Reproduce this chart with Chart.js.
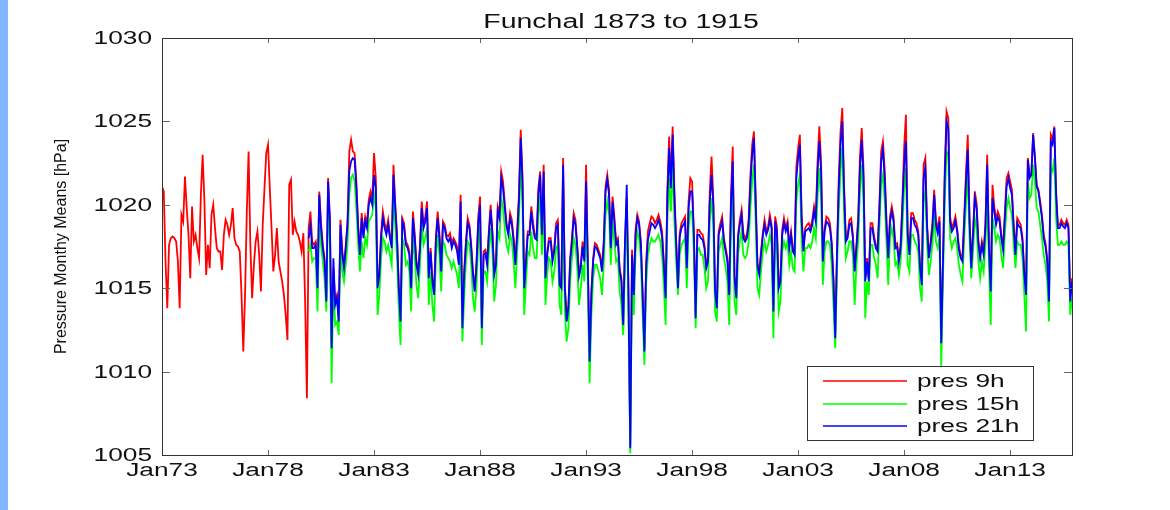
<!DOCTYPE html>
<html>
<head>
<meta charset="utf-8">
<title>Funchal 1873 to 1915</title>
<script src="https://cdn.jsdelivr.net/npm/chart.js@4.4.1/dist/chart.umd.min.js"></script>
<style>
  html,body{margin:0;padding:0;background:#fff;}
  #wrap{position:relative;width:1170px;height:510px;overflow:hidden;}
  #strip{position:absolute;left:0;top:0;width:8px;height:510px;background:#80b8ff;}
  canvas{position:absolute;left:0;top:0;}
</style>
</head>
<body>
<div id="wrap">
  <canvas id="chart" width="1170" height="510"></canvas>
  <div id="strip"></div>
</div>
<script>
/* ------- DATA (monthly means, month 0 = Jan 1873) ------- */
const titleText = "Funchal 1873 to 1915";
const yLabel = "Pressure Monthy Means [hPa]";
const seriesNames = ["pres 9h", "pres 15h", "pres 21h"];
const yTicks = [1005, 1010, 1015, 1020, 1025, 1030];
const xTickMonths = [0, 60, 120, 180, 240, 300, 360, 420, 480];
const xTickLabels = ["Jan73", "Jan78", "Jan83", "Jan88", "Jan93", "Jan98", "Jan03", "Jan08", "Jan13"];
const lastMonth = 515;

// 9h starts Jan 1873
const pres9h = [
  1021.1,1020.8,1016.6,1013.8,1017.6,1018.0,1018.1,1018.0,1017.8,1016.6,1013.8,1019.4,
  1019.0,1021.7,1019.8,1018.2,1015.6,1019.9,1017.8,1018.2,1017.4,1016.8,1020.6,1023.0,
  1020.2,1015.8,1017.6,1016.2,1019.4,1020.0,1018.6,1017.4,1017.2,1017.2,1016.1,1018.2,
  1019.1,1018.8,1018.2,1018.8,1019.8,1018.0,1017.6,1017.5,1017.2,1014.6,1011.2,1014.6,
  1019.6,1023.2,1017.6,1014.4,1016.4,1017.8,1018.4,1017.0,1014.8,1018.8,1021.0,1023.1,
  1023.6,1021.0,1018.6,1016.0,1017.0,1018.6,1016.6,1016.0,1015.4,1014.6,1013.4,1011.9,
  1021.2,1021.5,1018.2,1019.0,1018.4,1018.2,1017.8,1017.2,1018.3,1014.2,1008.4,1018.6,
  1019.6,1017.8,1017.6,1017.8,1015.2,1020.8,1018.9,1017.6,1016.8,1014.3,1021.6,1019.2,
  1011.6,1016.2,1014.2,1014.6,1013.2,1019.1,1017.3,1016.4,1017.6,1019.0,1023.2,1023.9,
  1023.2,1023.1,1021.4,1018.8,1017.2,1019.5,1018.3,1019.3,1018.9,1020.3,1020.8,1020.4,
  1023.1,1021.6,1015.2,1016.0,1018.3,1019.6,1018.9,1018.5,1019.1,1018.2,1017.6,1022.4,
  1020.1,1018.2,1015.2,1013.3,1019.2,1018.9,1017.8,1017.6,1017.2,1015.2,1019.6,1018.3,
  1016.6,1016.0,1017.6,1020.2,1018.8,1019.3,1020.2,1015.8,1017.4,1015.6,1014.8,1018.1,
  1019.6,1018.3,1016.2,1019.0,1018.8,1018.2,1018.1,1018.3,1017.7,1018.0,1017.8,1017.5,
  1016.6,1020.6,1012.8,1016.0,1017.8,1019.2,1018.8,1017.6,1016.0,1015.0,1016.6,1019.3,
  1020.5,1012.8,1017.2,1017.3,1016.6,1018.5,1020.0,1018.4,1016.0,1016.6,1019.9,1019.5,
  1022.0,1021.4,1020.1,1018.9,1018.4,1019.5,1019.1,1018.0,1016.6,1018.5,1020.6,1024.5,
  1021.8,1015.2,1016.8,1018.4,1018.4,1019.9,1018.9,1018.2,1018.1,1021.0,1022.0,1018.4,
  1022.4,1015.8,1017.2,1018.0,1018.0,1016.8,1017.4,1018.9,1019.1,1015.4,1015.2,1022.8,
  1015.2,1013.2,1014.0,1016.8,1018.0,1019.5,1019.1,1017.6,1015.9,1016.4,1017.8,1016.8,
  1022.4,1016.6,1010.6,1014.8,1016.8,1017.7,1017.6,1017.3,1017.0,1016.2,1017.8,1021.1,
  1021.8,1020.9,1017.6,1020.5,1019.3,1017.8,1018.0,1016.2,1015.6,1012.6,1017.8,1020.4,
  1014.8,1005.6,1017.3,1014.8,1018.5,1019.4,1019.0,1017.8,1014.8,1011.4,1016.6,1018.4,
  1018.9,1019.3,1019.2,1018.9,1019.1,1019.4,1019.0,1018.4,1016.6,1014.6,1020.9,1024.1,
  1021.4,1024.7,1020.8,1017.8,1015.2,1018.3,1018.9,1019.1,1019.3,1016.4,1020.2,1021.6,
  1021.4,1018.4,1013.4,1018.5,1018.5,1018.3,1018.2,1017.6,1016.4,1016.8,1020.8,1022.9,
  1020.4,1015.0,1014.0,1018.4,1018.9,1019.3,1018.0,1017.4,1016.8,1014.8,1020.6,1023.5,
  1015.8,1014.6,1018.2,1019.1,1019.7,1018.3,1018.0,1018.2,1019.1,1021.8,1023.6,1024.4,
  1020.4,1016.5,1016.0,1017.2,1018.3,1019.1,1018.4,1018.7,1019.4,1018.8,1013.8,1019.3,
  1018.7,1015.2,1015.6,1018.5,1019.2,1018.6,1019.0,1017.6,1018.4,1017.4,1017.2,1022.3,
  1023.4,1024.2,1019.4,1017.4,1018.6,1018.8,1018.9,1018.6,1019.1,1019.9,1019.3,1022.6,
  1024.7,1022.6,1016.8,1018.6,1019.3,1019.2,1018.9,1017.8,1015.6,1012.2,1017.2,1021.6,
  1024.4,1025.8,1021.2,1018.0,1018.2,1019.1,1019.2,1018.2,1016.2,1017.6,1019.3,1022.9,
  1024.6,1022.2,1015.6,1016.8,1015.6,1018.9,1018.9,1018.1,1017.6,1017.4,1020.0,1023.2,
  1023.8,1022.1,1019.1,1017.0,1019.3,1019.9,1019.3,1017.6,1017.7,1016.8,1017.6,1020.2,
  1023.4,1025.4,1018.4,1017.2,1019.5,1019.5,1019.1,1018.9,1018.4,1016.4,1015.4,1022.4,
  1022.8,1018.8,1017.0,1017.8,1018.9,1020.9,1019.1,1018.5,1019.3,1011.9,1016.8,1022.2,
  1025.6,1025.2,1019.3,1018.6,1018.9,1019.3,1018.6,1017.5,1017.0,1016.8,1019.3,1021.9,
  1024.2,1019.3,1016.4,1018.4,1020.8,1020.1,1017.9,1017.0,1017.8,1017.2,1018.9,1023.0,
  1017.6,1015.0,1021.2,1019.9,1019.1,1019.6,1019.3,1018.2,1017.5,1019.5,1021.6,1021.9,
  1021.4,1020.9,1018.8,1017.2,1019.2,1019.0,1018.8,1018.0,1016.0,1014.8,1022.8,1021.8,
  1021.8,1024.3,1022.9,1021.2,1020.9,1020.2,1019.4,1018.2,1017.7,1016.8,1014.4,1024.2,
  1023.9,1024.7,1020.8,1018.8,1018.8,1019.1,1018.9,1018.8,1019.1,1018.8,1014.4,1015.6
];

// 15h and 21h start Dec 1879 (month 83)
const lateStart = 83;
const pres15h = [
  1017.2,
  1017.6,1016.6,1016.8,1016.8,1013.6,1019.4,1017.6,1016.6,1015.6,1013.6,1020.6,1017.8,
  1009.3,1015.6,1012.8,1013.0,1012.2,1017.8,1016.0,1015.4,1016.4,1017.6,1020.6,1021.6,
  1021.8,1021.4,1019.8,1017.6,1016.0,1017.8,1016.8,1018.0,1017.6,1019.0,1019.2,1019.4,
  1020.6,1019.8,1013.4,1014.6,1016.8,1018.0,1017.8,1017.2,1017.6,1017.0,1016.4,1020.4,
  1018.8,1016.8,1013.8,1011.6,1018.0,1017.6,1016.4,1016.6,1016.0,1013.6,1018.2,1017.0,
  1015.2,1014.4,1016.4,1018.8,1017.6,1018.0,1018.6,1014.0,1016.0,1014.0,1013.0,1016.8,
  1018.2,1017.0,1014.8,1017.8,1017.6,1017.0,1016.8,1016.6,1016.2,1016.6,1016.2,1015.8,
  1015.0,1019.0,1011.8,1014.4,1016.6,1017.8,1017.6,1016.4,1014.4,1013.6,1015.2,1017.8,
  1018.8,1011.6,1016.0,1016.0,1015.4,1017.2,1018.6,1017.2,1014.2,1015.2,1018.4,1018.0,
  1020.4,1019.8,1018.6,1017.6,1017.2,1018.2,1017.8,1016.6,1015.0,1017.2,1019.0,1022.6,
  1020.0,1013.4,1015.4,1017.2,1017.0,1018.4,1017.4,1016.8,1016.8,1019.4,1020.6,1017.0,
  1020.8,1014.0,1015.8,1016.8,1016.6,1015.4,1016.0,1017.4,1017.6,1014.0,1013.4,1021.0,
  1013.6,1011.8,1012.6,1015.4,1016.8,1018.0,1017.6,1016.2,1014.0,1015.0,1016.4,1015.4,
  1020.0,1015.0,1009.3,1013.4,1015.6,1016.4,1016.4,1016.0,1015.6,1014.6,1016.4,1019.4,
  1020.2,1019.4,1016.4,1019.0,1017.8,1016.6,1016.8,1014.8,1014.0,1012.2,1016.4,1020.0,
  1013.2,1005.1,1016.0,1013.4,1017.2,1018.4,1018.0,1016.8,1013.4,1010.4,1015.2,1017.0,
  1017.6,1018.0,1017.8,1017.8,1018.0,1018.2,1017.8,1017.0,1015.2,1012.8,1019.0,1021.6,
  1019.6,1022.4,1019.0,1016.6,1014.6,1017.0,1017.6,1017.8,1018.0,1015.0,1018.6,1019.6,
  1019.6,1017.2,1012.6,1017.2,1017.4,1017.0,1017.0,1016.2,1015.0,1015.4,1019.0,1020.4,
  1018.8,1013.6,1013.0,1017.2,1017.6,1018.0,1016.8,1016.2,1015.4,1012.8,1018.8,1021.2,
  1014.2,1013.4,1017.0,1017.8,1018.4,1017.0,1016.8,1017.0,1017.8,1019.8,1021.4,1022.4,
  1018.8,1015.0,1014.6,1016.0,1017.2,1017.8,1017.2,1017.6,1018.2,1017.6,1012.0,1018.0,
  1017.4,1013.6,1014.2,1017.2,1017.8,1017.4,1017.8,1016.4,1017.2,1016.2,1016.0,1020.2,
  1021.2,1021.8,1017.8,1016.0,1017.4,1017.4,1017.6,1017.4,1017.8,1018.6,1018.0,1020.4,
  1022.2,1020.4,1015.2,1017.2,1017.8,1017.8,1017.6,1016.4,1014.0,1011.4,1016.0,1019.6,
  1022.0,1023.4,1019.4,1016.8,1017.2,1017.8,1017.8,1017.0,1014.0,1016.4,1017.8,1020.8,
  1022.4,1020.2,1013.2,1015.4,1014.6,1017.6,1017.6,1016.8,1016.4,1015.6,1018.6,1021.2,
  1021.8,1020.2,1017.8,1015.2,1018.0,1018.6,1018.0,1016.4,1016.6,1015.8,1016.6,1018.6,
  1021.0,1022.2,1016.4,1016.0,1018.2,1018.2,1017.8,1017.6,1017.2,1015.0,1014.2,1020.2,
  1020.8,1017.6,1015.8,1016.6,1017.6,1019.4,1017.8,1017.4,1018.0,1010.3,1015.6,1020.2,
  1023.2,1023.0,1018.0,1017.4,1017.8,1018.0,1017.4,1016.4,1015.8,1015.4,1018.0,1020.0,
  1021.8,1018.0,1015.6,1017.2,1019.2,1018.6,1016.6,1015.6,1016.6,1016.0,1017.6,1020.8,
  1016.4,1012.8,1019.2,1018.6,1017.8,1018.2,1018.0,1017.0,1016.2,1018.2,1019.8,1020.4,
  1019.8,1019.4,1017.6,1016.2,1017.8,1017.6,1017.6,1016.8,1014.6,1012.4,1021.4,1020.4,
  1020.6,1022.4,1021.4,1019.8,1019.6,1018.8,1018.0,1017.0,1016.4,1015.4,1013.0,1022.2,
  1022.0,1022.8,1019.2,1017.6,1017.6,1017.8,1017.6,1017.6,1017.8,1017.6,1013.4,1014.4
];

const pres21h = [
  1018.0,
  1018.8,1017.4,1017.4,1017.6,1015.0,1020.6,1018.6,1017.4,1016.6,1014.2,1021.4,1019.0,
  1011.4,1016.8,1014.0,1014.4,1013.0,1018.8,1017.0,1016.2,1017.4,1018.8,1022.0,1022.6,
  1022.8,1022.7,1021.0,1018.6,1017.0,1019.2,1018.0,1019.0,1018.6,1020.0,1020.4,1020.0,
  1021.8,1021.0,1015.0,1015.8,1018.0,1019.2,1018.6,1018.2,1018.8,1018.0,1017.4,1021.8,
  1019.8,1018.0,1015.0,1013.0,1019.0,1018.6,1017.6,1017.4,1017.0,1015.0,1019.2,1018.0,
  1016.4,1015.8,1017.4,1019.8,1018.6,1019.0,1019.8,1015.6,1017.2,1015.4,1014.6,1017.8,
  1019.2,1018.0,1016.0,1018.8,1018.6,1018.0,1017.8,1018.0,1017.4,1017.8,1017.6,1017.2,
  1016.4,1020.2,1012.6,1015.8,1017.6,1018.9,1018.6,1017.4,1015.8,1014.8,1016.4,1018.9,
  1020.0,1012.6,1017.0,1017.1,1016.4,1018.2,1019.7,1018.2,1015.8,1016.4,1019.6,1019.2,
  1021.6,1021.0,1019.8,1018.7,1018.2,1019.2,1018.8,1017.8,1016.4,1018.2,1020.2,1024.0,
  1021.4,1015.0,1016.6,1018.2,1018.2,1019.6,1018.6,1018.0,1017.9,1020.6,1021.8,1018.2,
  1022.0,1015.6,1017.0,1017.8,1017.8,1016.6,1017.2,1018.6,1018.8,1015.2,1015.0,1022.4,
  1015.0,1013.0,1013.8,1016.6,1017.8,1019.2,1018.8,1017.4,1015.7,1016.2,1017.5,1016.6,
  1021.4,1016.4,1010.6,1014.6,1016.6,1017.5,1017.4,1017.1,1016.8,1016.0,1017.6,1020.8,
  1021.5,1020.6,1017.4,1020.2,1019.0,1017.6,1017.8,1016.0,1015.4,1012.8,1017.6,1021.2,
  1014.6,1005.4,1017.0,1014.6,1018.2,1019.2,1018.8,1017.6,1014.6,1011.2,1016.2,1017.9,
  1018.4,1018.9,1018.8,1018.6,1018.8,1019.1,1018.7,1018.1,1016.4,1014.4,1020.4,1023.4,
  1021.0,1024.2,1020.4,1017.6,1015.0,1018.1,1018.6,1018.8,1019.0,1016.2,1019.8,1020.8,
  1020.8,1018.2,1013.2,1018.2,1018.2,1018.0,1017.9,1017.4,1016.2,1016.6,1020.2,1021.8,
  1020.0,1014.8,1013.8,1018.2,1018.6,1019.0,1017.8,1017.2,1016.6,1014.6,1020.0,1022.6,
  1015.6,1014.4,1018.0,1018.8,1019.4,1018.0,1017.8,1018.0,1018.8,1021.2,1023.0,1024.0,
  1020.0,1016.3,1015.8,1017.0,1018.1,1018.8,1018.2,1018.5,1019.1,1018.6,1013.6,1019.0,
  1018.4,1015.0,1015.4,1018.2,1018.9,1018.4,1018.8,1017.4,1018.2,1017.2,1017.0,1021.6,
  1022.8,1023.6,1019.0,1017.2,1018.4,1018.5,1018.6,1018.4,1018.8,1019.6,1019.0,1022.0,
  1023.8,1022.0,1016.6,1018.4,1019.0,1018.9,1018.6,1017.6,1015.4,1012.0,1017.0,1021.0,
  1023.6,1025.0,1020.8,1017.8,1018.0,1018.8,1018.9,1018.0,1016.0,1017.4,1018.9,1022.2,
  1023.9,1021.6,1015.4,1016.6,1015.4,1018.6,1018.6,1017.9,1017.4,1017.2,1019.6,1022.6,
  1023.3,1021.6,1018.8,1016.8,1019.0,1019.6,1019.0,1017.4,1017.5,1016.6,1017.4,1019.8,
  1022.4,1023.8,1018.2,1017.0,1019.2,1019.2,1018.8,1018.6,1018.2,1016.2,1015.2,1021.6,
  1022.2,1018.6,1016.8,1017.6,1018.6,1020.6,1018.8,1018.3,1019.0,1011.7,1016.6,1021.6,
  1025.0,1024.6,1019.0,1018.4,1018.6,1019.0,1018.4,1017.3,1016.8,1016.6,1019.0,1021.4,
  1023.3,1019.0,1016.2,1018.2,1020.4,1019.8,1017.7,1016.8,1017.6,1017.0,1018.6,1022.4,
  1017.4,1014.8,1020.4,1019.6,1018.8,1019.3,1019.0,1018.0,1017.3,1019.2,1021.1,1021.6,
  1021.0,1020.6,1018.6,1017.0,1018.9,1018.7,1018.6,1017.8,1015.8,1014.6,1022.7,1021.6,
  1021.8,1024.2,1022.8,1021.1,1020.8,1020.0,1019.2,1018.0,1017.5,1016.6,1014.2,1023.8,
  1023.6,1024.6,1020.6,1018.6,1018.6,1018.9,1018.7,1018.6,1018.9,1018.6,1014.2,1015.4
];

const seriesColors = ["#ff0000", "#00ff00", "#0000ff"];

/* ------- TEXT HELPERS ------- */
const FONT = '"Liberation Sans", Arial, sans-serif';
const SX = 1.46; // the original bitmap is stretched sideways

function wideText(ctx, txt, x, y, size, align, base){
  ctx.save();
  ctx.font = size + "px " + FONT;
  ctx.textAlign = align;
  ctx.textBaseline = base;
  ctx.fillStyle = "#111";
  ctx.translate(x, y);
  ctx.scale(SX, 1);
  ctx.fillText(txt, 0, 0);
  ctx.restore();
}

/* ------- MATLAB STYLE AXES, LABELS, LEGEND ------- */
const matlabAxes = {
  id: "matlabAxes",
  afterDatasetsDraw(chart){
    const {ctx, chartArea: a, scales: {x, y}} = chart;
    ctx.save();

    // inward ticks on all four sides
    ctx.strokeStyle = "#666";
    ctx.lineWidth = 1;
    ctx.beginPath();
    yTicks.forEach(v => {
      const py = Math.round(y.getPixelForValue(v)) + 0.5;
      ctx.moveTo(a.left, py);  ctx.lineTo(a.left + 8, py);
      ctx.moveTo(a.right, py); ctx.lineTo(a.right - 8, py);
    });
    xTickMonths.forEach(m => {
      const px = Math.round(x.getPixelForValue(m)) + 0.5;
      ctx.moveTo(px, a.bottom); ctx.lineTo(px, a.bottom - 5);
      ctx.moveTo(px, a.top);    ctx.lineTo(px, a.top + 5);
    });
    ctx.stroke();

    // box
    ctx.strokeStyle = "#333";
    ctx.strokeRect(a.left + 0.5, a.top + 0.5, a.right - a.left, a.bottom - a.top);

    // tick labels
    yTicks.forEach(v => {
      wideText(ctx, String(v), a.left - 10, y.getPixelForValue(v) + 1, 18, "right", "middle");
    });
    xTickMonths.forEach((m, i) => {
      wideText(ctx, xTickLabels[i], x.getPixelForValue(m), a.bottom + 21, 18, "center", "alphabetic");
    });

    // title
    wideText(ctx, titleText, (a.left + a.right) / 2 + 4, 28, 19.5, "center", "alphabetic");

    // y label
    ctx.save();
    ctx.font = "16px " + FONT;
    ctx.fillStyle = "#111";
    ctx.textAlign = "center";
    ctx.textBaseline = "alphabetic";
    ctx.translate(65.5, (a.top + a.bottom) / 2);
    ctx.rotate(-Math.PI / 2);
    ctx.fillText(yLabel, 0, 0);
    ctx.restore();

    // legend
    const lx = 807, ly = 366, lw = 226, lh = 74;
    ctx.fillStyle = "#fff";
    ctx.fillRect(lx, ly, lw, lh);
    ctx.strokeStyle = "#333";
    ctx.lineWidth = 1;
    ctx.strokeRect(lx + 0.5, ly + 0.5, lw, lh);
    seriesNames.forEach((name, i) => {
      const ry = Math.round(ly + 15 + i * 22.6);
      ctx.save();
      ctx.strokeStyle = seriesColors[i];
      ctx.lineWidth = 1.6;
      ctx.beginPath();
      ctx.moveTo(lx + 16, ry);
      ctx.lineTo(lx + 100, ry);
      ctx.stroke();
      ctx.restore();
      wideText(ctx, name, lx + 110, ry + 1, 18, "left", "middle");
    });

    ctx.restore();
  }
};

/* ------- CHART ------- */
function toPoints(values, start){
  return values.map((v, i) => ({x: start + i, y: v}));
}

const lines = [pres9h, pres15h, pres21h];
const starts = [0, lateStart, lateStart];

new Chart(document.getElementById("chart"), {
  type: "line",
  data: {
    datasets: lines.map((vals, i) => ({
      label: seriesNames[i],
      data: toPoints(vals, starts[i]),
      borderColor: seriesColors[i],
      borderWidth: 1.8,
      pointRadius: 0,
      tension: 0,
      order: 3 - i
    }))
  },
  options: {
    responsive: false,
    animation: false,
    devicePixelRatio: 1,
    layout: {padding: {top: 38, right: 98, left: 0, bottom: 0}},
    plugins: {legend: {display: false}, tooltip: {enabled: false}, title: {display: false}},
    scales: {
      x: {
        type: "linear",
        min: 0,
        max: lastMonth,
        grid: {display: false},
        border: {display: false},
        ticks: {display: false},
        afterFit: s => { s.height = 55; }
      },
      y: {
        min: yTicks[0],
        max: yTicks[yTicks.length - 1],
        grid: {display: false},
        border: {display: false},
        ticks: {display: false, stepSize: 5},
        afterFit: s => { s.width = 162; }
      }
    }
  },
  plugins: [matlabAxes]
});
</script>
</body>
</html>
